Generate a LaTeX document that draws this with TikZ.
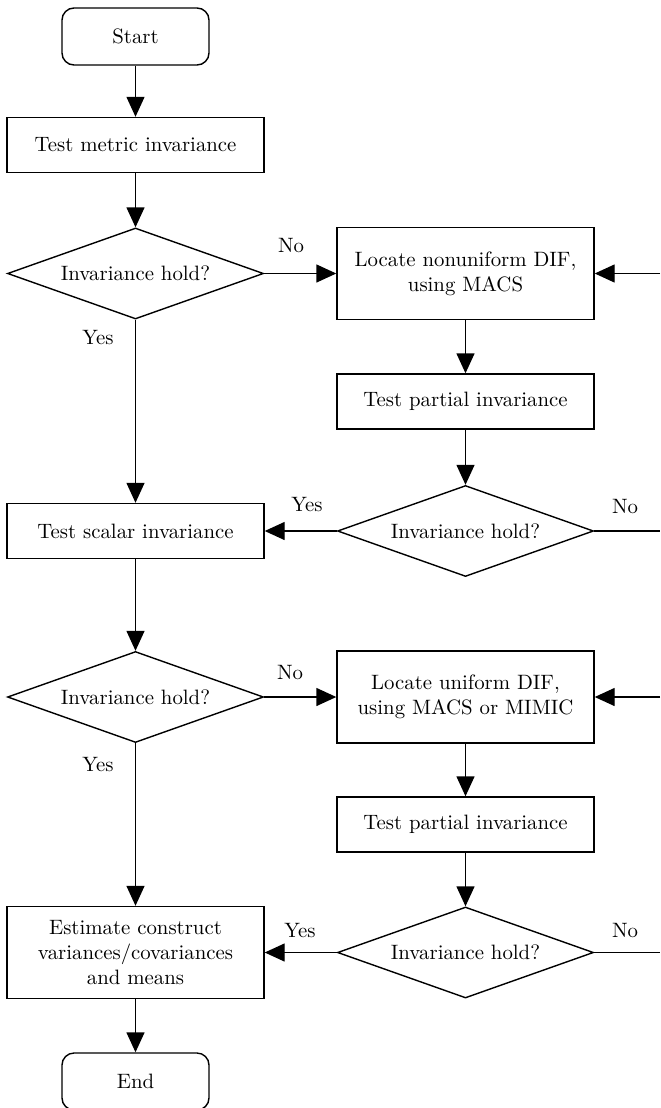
\documentclass[tikz,border=0pt]{standalone}
\usetikzlibrary{arrows.meta, positioning, shapes.geometric}

\begin{document}
\begin{tikzpicture}[
  x=0.5pt, y=-0.5pt,
  >={Triangle[length=10pt, width=9pt]},
  every node/.style={font=\fontsize{10.4}{12.5}\selectfont},
  %% ── Box styles ──────────────────────────────────────────────────────────
  stepbox/.style={
    draw, line width=0.7pt,
    minimum width=128.5pt, minimum height=27.5pt,
    align=center, inner sep=2pt
  },
  tallbox/.style={stepbox, minimum height=46pt},
  termbox/.style={
    draw, line width=0.7pt, rounded corners=6pt,
    minimum width=73.5pt, minimum height=28.5pt,
    align=center
  },
  test/.style={
    draw, diamond, line width=0.7pt, aspect=2.8,
    minimum width=128pt, minimum height=45.5pt, inner sep=0pt
  },
  %% ── Arrow styles ────────────────────────────────────────────────────────
  arr/.style={->, line width=0.7pt},
  lin/.style={line width=0.7pt},
  %% ── Label style ─────────────────────────────────────────────────────────
  ann/.style={inner sep=1pt},
]

\useasboundingbox (0, 0) rectangle (660, 1108);

%% ═══════════════════════════════════════════════════════════════════════════
%% LEFT COLUMN
%% ═══════════════════════════════════════════════════════════════════════════

\node[termbox] (start)  at (135.5, 36.5)  {Start};
\node[stepbox] (metric) at (135.5, 145)   {Test metric invariance};
\node[test]    (d1)     at (135.5, 273.5) {Invariance hold?};
\node[stepbox] (scalar) at (135.5, 531)   {Test scalar invariance};
\node[test]    (d3)     at (135.5, 697)   {Invariance hold?};
\node[tallbox] (est)    at (135.5, 952.5)
  {Estimate construct\\variances/covariances\\and means};
\node[termbox] (end)    at (135.5, 1081.5) {End};

%% ═══════════════════════════════════════════════════════════════════════════
%% RIGHT COLUMN
%% ═══════════════════════════════════════════════════════════════════════════

\node[tallbox] (locnon) at (465.5, 273.5) {Locate nonuniform DIF,\\using MACS};
\node[stepbox] (part1)  at (465.5, 401.5) {Test partial invariance};
\node[test]    (d2)     at (465.5, 531)   {Invariance hold?};
\node[tallbox] (locuni) at (465.5, 697)   {Locate uniform DIF,\\using MACS or MIMIC};
\node[stepbox] (part2)  at (465.5, 824.5) {Test partial invariance};
\node[test]    (d4)     at (465.5, 952.5) {Invariance hold?};

%% — free ends at the right border ───────────────────────────────────────────
\coordinate (r1) at (660, 273.5);
\coordinate (r2) at (660, 531);
\coordinate (r3) at (660, 697);
\coordinate (r4) at (660, 952.5);

%% ═══════════════════════════════════════════════════════════════════════════
%% CONNECTORS
%% ═══════════════════════════════════════════════════════════════════════════

\draw[arr] (start) -- (metric);
\draw[arr] (metric) -- (d1);
\draw[arr] (d1) -- (locnon);
\draw[arr] (d1) -- (scalar);
\draw[arr] (r1) -- (locnon);
\draw[arr] (locnon) -- (part1);
\draw[arr] (part1) -- (d2);
\draw[arr] (d2) -- (scalar);
\draw[lin] (d2.east) -- (r2);

\draw[arr] (scalar) -- (d3);
\draw[arr] (d3) -- (locuni);
\draw[arr] (d3) -- (est);
\draw[arr] (r3) -- (locuni);
\draw[arr] (locuni) -- (part2);
\draw[arr] (part2) -- (d4);
\draw[arr] (d4) -- (est);
\draw[lin] (d4.east) -- (r4);
\draw[arr] (est) -- (end);

%% ═══════════════════════════════════════════════════════════════════════════
%% YES / NO LABELS
%% ═══════════════════════════════════════════════════════════════════════════

\node[ann] (no1)  at (291, 246) {No};
\node[ann] (yes1) at (98, 338)  {Yes};
\node[ann] (yes2) at (307, 505) {Yes};
\node[ann] (no2)  at (625, 507) {No};
\node[ann] (no3)  at (290, 673) {No};
\node[ann] (yes3) at (98, 765)  {Yes};
\node[ann] (yes4) at (300, 930) {Yes};
\node[ann] (no4)  at (625, 930) {No};

\end{tikzpicture}
\end{document}
